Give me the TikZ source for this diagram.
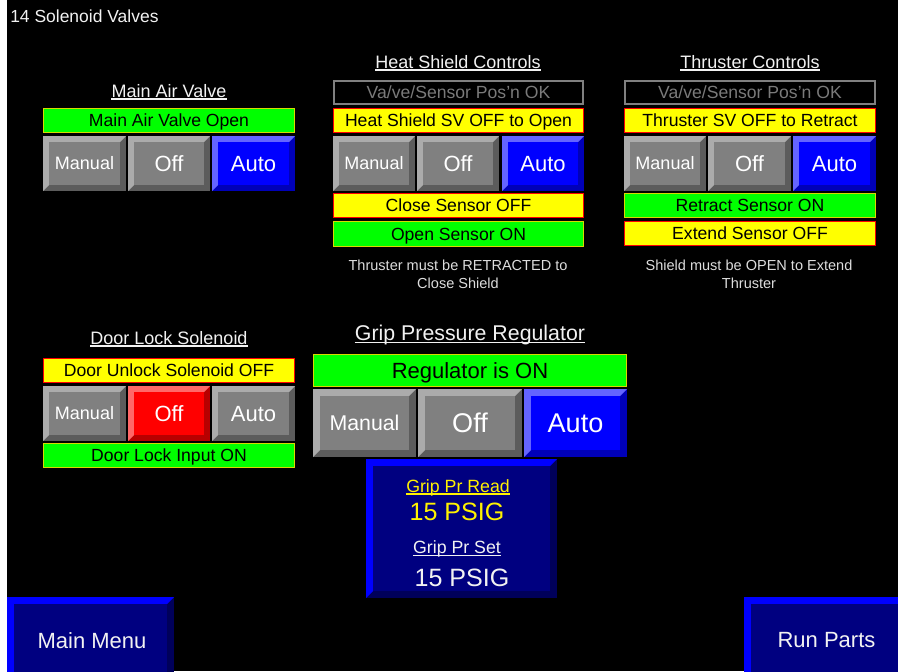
\documentclass[tikz,border=0pt]{standalone}
\usepackage{fontspec}
\setmainfont{Liberation Sans}
\definecolor{gface}{HTML}{808080}
\definecolor{glight}{HTML}{ABABAB}
\definecolor{gdark}{HTML}{5C5C5C}
\definecolor{bface}{HTML}{0000FF}
\definecolor{blight}{HTML}{6464FF}
\definecolor{bdark}{HTML}{0000B8}
\definecolor{rface}{HTML}{FF0000}
\definecolor{rlight}{HTML}{FF6868}
\definecolor{rdark}{HTML}{B80000}
\definecolor{nface}{HTML}{000080}
\definecolor{nlight}{HTML}{0000FF}
\definecolor{ndark}{HTML}{00005A}
\definecolor{okgreen}{HTML}{00FF00}
\definecolor{okborder}{HTML}{D8D800}
\definecolor{warnyellow}{HTML}{FFFF00}
\definecolor{warnborder}{HTML}{FF0000}
\definecolor{dimgray}{HTML}{7A7A7A}
\definecolor{labwhite}{HTML}{F2F2F2}
\definecolor{notegray}{HTML}{DDDDDD}
\newcommand\bevelbox[8]{%
  \fill[#8] (#1,#2) rectangle (#3,#4);
  \fill[#7] (#1,#4) -- (#1,#2) -- (#3,#2) -- ({#3-#5},{#2+#5}) -- ({#1+#5},{#2+#5}) -- ({#1+#5},{#4-#5}) -- cycle;
  \fill[#6] ({#1+#5},{#2+#5}) rectangle ({#3-#5},{#4-#5});
}
\newcommand\hmibtn[9]{%
  \bevelbox{#2}{#3}{#4}{#5}{#7}{#6face}{#6light}{#6dark}
  \node[#8, text=white] (#1) at ({(#2+#4)/2},{(#3+#5)/2}) {#9};
}
\newcommand\statbox[9]{%
  \filldraw[fill=#6, draw=#7, line width=0.9pt] ({#2+0.6},{#3+0.6}) rectangle ({#4-0.6},{#5-0.6});
  \node[#8] (#1) at ({(#2+#4)/2},{(#3+#5)/2}) {#9};
}
\tikzset{
  capbox/.style={inner sep=0pt, text depth=0pt},
  fstat/.style={capbox, font=\fontsize{13.2}{16}\selectfont, text height=9.45pt},
  fman/.style={capbox, font=\fontsize{13.5}{16}\selectfont, text height=9.7pt},
  fbig/.style={capbox, font=\fontsize{16.5}{19}\selectfont, text height=11.8pt},
  freg/.style={capbox, font=\fontsize{16.5}{19}\selectfont, text height=11.8pt},
  fgman/.style={capbox, font=\fontsize{16}{19}\selectfont, text height=11.5pt},
  fgbig/.style={capbox, font=\fontsize{20.3}{24}\selectfont, text height=14.5pt},
  sect/.style={inner sep=0pt, anchor=base, text=labwhite, font=\fontsize{13.5}{16}\selectfont},
  gsect/.style={inner sep=0pt, anchor=base, text=labwhite, font=\fontsize{16}{19}\selectfont},
  note/.style={inner sep=0pt, anchor=base, text=notegray, font=\fontsize{10.9}{13}\selectfont},
  prlab/.style={inner sep=0pt, anchor=base, font=\fontsize{13.3}{16}\selectfont},
  psig/.style={inner sep=0pt, anchor=base, font=\fontsize{18.8}{22}\selectfont},
  nav/.style={inner sep=0pt, anchor=base, text=labwhite, font=\fontsize{16.5}{19}\selectfont},
  uline/.style={line width=1pt, draw=labwhite},
}
\begin{document}
\begin{tikzpicture}[x=0.75pt,y=-0.75pt]
\useasboundingbox (0,0) rectangle (898,671);
\fill[white] (0,0) rectangle (898,671);
\begin{scope}
\clip (0,0) rectangle (898,671);
\fill[black] (7,0) rectangle (898,671);

% page title
\node[inner sep=0pt, anchor=base west, text=labwhite, font=\fontsize{13.1}{16}\selectfont] (pagetitle) at (10,22) {14 Solenoid Valves};

% ---------- Main Air Valve ----------
\node[sect] (mavt) at (169,97) {Main Air Valve};
\draw[uline] ([yshift=-1.6pt]mavt.base west) -- ([yshift=-1.6pt]mavt.base east);
\statbox{mavs}{43}{108}{295}{133}{okgreen}{okborder}{fstat}{Main Air Valve Open}
\hmibtn{mavman}{43}{136}{126}{191}{g}{6}{fman}{Manual}
\hmibtn{mavoff}{128}{136}{210}{191}{g}{6}{fbig}{Off}
\hmibtn{mavauto}{212}{136}{295}{191}{b}{6}{fbig}{Auto}

% ---------- Heat Shield ----------
\node[sect] (hst) at (458,68) {Heat Shield Controls};
\draw[uline] ([yshift=-1.6pt]hst.base west) -- ([yshift=-1.6pt]hst.base east);
\filldraw[fill=black, draw=gface, line width=1.4pt] (334,81) rectangle (583,104);
\node[fstat, text=dimgray] (hsok) at (458.5,92.5) {Va/ve/Sensor Pos\char"27 n OK};
\statbox{hssv}{333}{108}{584}{133}{warnyellow}{warnborder}{fstat}{Heat Shield SV OFF to Open}
\hmibtn{hsman}{333}{136}{415}{191}{g}{6}{fman}{Manual}
\hmibtn{hsoff}{417}{136}{499}{191}{g}{6}{fbig}{Off}
\hmibtn{hsauto}{502}{136}{584}{191}{b}{6}{fbig}{Auto}
\statbox{hsclose}{333}{193}{584}{218}{warnyellow}{warnborder}{fstat}{Close Sensor OFF}
\statbox{hsopen}{333}{221}{584}{247}{okgreen}{okborder}{fstat}{Open Sensor ON}
\node[note] (hsn1) at (458,270) {Thruster must be RETRACTED to};
\node[note] (hsn2) at (458,288) {Close Shield};

% ---------- Thruster ----------
\node[sect] (tct) at (750,68) {Thruster Controls};
\draw[uline] ([yshift=-1.6pt]tct.base west) -- ([yshift=-1.6pt]tct.base east);
\filldraw[fill=black, draw=gface, line width=1.4pt] (625,81) rectangle (875,104);
\node[fstat, text=dimgray] (tcok) at (750,92.5) {Va/ve/Sensor Pos\char"27 n OK};
\statbox{tcsv}{624}{108}{876}{133}{warnyellow}{warnborder}{fstat}{Thruster SV OFF to Retract}
\hmibtn{tcman}{624}{136}{706}{191}{g}{6}{fman}{Manual}
\hmibtn{tcoff}{708}{136}{791}{191}{g}{6}{fbig}{Off}
\hmibtn{tcauto}{793}{136}{876}{191}{b}{6}{fbig}{Auto}
\statbox{tcret}{624}{193}{876}{218}{okgreen}{okborder}{fstat}{Retract Sensor ON}
\statbox{tcext}{624}{221}{876}{246}{warnyellow}{warnborder}{fstat}{Extend Sensor OFF}
\node[note] (tcn1) at (749,270) {Shield must be OPEN to Extend};
\node[note] (tcn2) at (749,288) {Thruster};

% ---------- Door Lock ----------
\node[sect] (dlt) at (169,344) {Door Lock Solenoid};
\draw[uline] ([yshift=-1.6pt]dlt.base west) -- ([yshift=-1.6pt]dlt.base east);
\statbox{dlun}{43}{358}{295}{383}{warnyellow}{warnborder}{fstat}{Door Unlock Solenoid OFF}
\hmibtn{dlman}{43}{386}{126}{441}{g}{6}{fman}{Manual}
\hmibtn{dloff}{128}{386}{210}{441}{r}{6}{fbig}{Off}
\hmibtn{dlauto}{212}{386}{295}{441}{g}{6}{fbig}{Auto}
\statbox{dlin}{43}{443}{295}{468}{okgreen}{okborder}{fstat}{Door Lock Input ON}

% ---------- Grip Pressure Regulator ----------
\node[gsect] (gpt) at (470,340) {Grip Pressure Regulator};
\draw[uline] ([yshift=-1.7pt]gpt.base west) -- ([yshift=-1.7pt]gpt.base east);
\statbox{greg}{313}{354}{627}{387}{okgreen}{okborder}{freg}{Regulator is ON}
\hmibtn{gman}{313}{389}{416}{457}{g}{7}{fgman}{Manual}
\hmibtn{goff}{418}{389}{522}{457}{g}{7}{fgbig}{Off}
\hmibtn{gauto}{524}{389}{627}{457}{b}{7}{fgbig}{Auto}

\bevelbox{366}{459}{557}{598}{7}{nface}{nlight}{ndark}
\node[prlab, text=yellow] (gprl) at (458,492) {Grip Pr Read};
\draw[line width=1pt, draw=yellow] ([yshift=-1.6pt]gprl.base west) -- ([yshift=-1.6pt]gprl.base east);
\node[psig, text=yellow] (gprv) at (457,520) {15 PSIG};
\node[prlab, text=labwhite] (gpsl) at (457,553) {Grip Pr Set};
\draw[uline] ([yshift=-1.8pt]gpsl.base west) -- ([yshift=-1.8pt]gpsl.base east);
\node[psig, text=labwhite] (gpsv) at (462,586) {15 PSIG};

% ---------- Navigation ----------
\bevelbox{7}{597}{174}{690}{7}{nface}{nlight}{ndark}
\node[nav] (mainmenu) at (92,648) {Main Menu};
\bevelbox{744}{597}{915}{690}{7}{nface}{nlight}{ndark}
\node[nav] (runparts) at (826.5,647) {Run Parts};
\end{scope}
\end{tikzpicture}
\end{document}
